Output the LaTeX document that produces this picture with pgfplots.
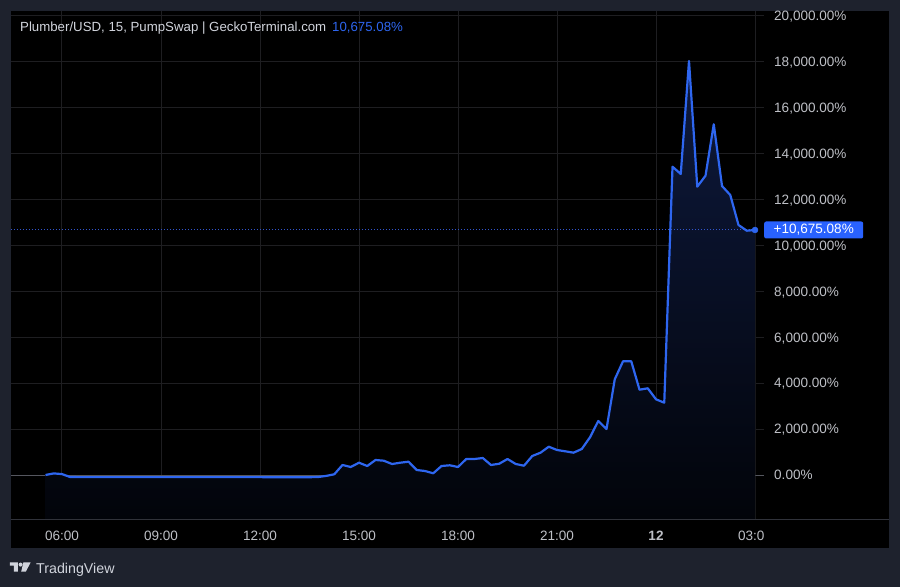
\documentclass[border=0pt]{standalone}
\usepackage{pgfplots}
\pgfplotsset{compat=1.18}
\usepackage{pgfplotstable}
\usepgfplotslibrary{fillbetween}
\usepackage{fontspec}
\setmainfont{Liberation Sans}

\definecolor{outerbg}{RGB}{30,34,45}
\definecolor{gridc}{RGB}{30,30,33}
\definecolor{zeroc}{RGB}{85,87,95}
\definecolor{sepc}{RGB}{48,50,58}
\definecolor{tvblue}{RGB}{46,102,240}
\definecolor{dotblue}{RGB}{50,85,205}
\definecolor{boxblue}{RGB}{41,98,255}
\definecolor{ticktext}{RGB}{190,192,198}
\definecolor{titletext}{RGB}{209,212,220}
\definecolor{areatop}{RGB}{14,26,62}
\definecolor{areabot}{RGB}{2,4,10}

% 15-minute closes, % change since open; x in hours (24 = midnight)
\pgfplotstableread{
h val
5.5 0
5.75 70
6.0 40
6.25 -90
6.5 -92
6.75 -92
7.0 -92
7.25 -92
7.5 -92
7.75 -92
8.0 -92
8.25 -92
8.5 -92
8.75 -92
9.0 -92
9.25 -92
9.5 -92
9.75 -92
10.0 -92
10.25 -92
10.5 -92
10.75 -92
11.0 -92
11.25 -92
11.5 -92
11.75 -92
12.0 -92
12.25 -97
12.5 -97
12.75 -97
13.0 -97
13.25 -97
13.5 -95
13.75 -90
14.0 -40
14.25 30
14.5 436
14.75 349
15.0 536
15.25 392
15.5 654
15.75 623
16.0 479
16.25 536
16.5 580
16.75 218
17.0 174
17.25 74
17.5 392
17.75 423
18.0 349
18.25 697
18.5 697
18.75 741
19.0 436
19.25 492
19.5 697
19.75 479
20.0 405
20.25 828
20.5 972
20.75 1233
21.0 1089
21.25 1033
21.5 972
21.75 1133
22.0 1643
22.25 2353
22.5 2004
22.75 4170
23.0 4954
23.25 4954
23.5 3717
23.75 3777
24.0 3298
24.25 3150
24.5 13433
24.75 13115
25.0 18038
25.25 12561
25.5 13040
25.75 15280
26.0 12592
26.25 12200
26.5 10893
26.75 10644
27.0 10675.08
}\pricedata

\begin{document}
\begin{tikzpicture}[x=1bp, y=1bp]
  \begin{axis}[
    at={(11bp,68bp)}, anchor=south west,
    scale only axis, width=753bp, height=508bp,
    xmin=4.4545, xmax=27.2727, ymin=-1917, ymax=20217,
    set layers, clip=false,
    axis line style={draw=none},
    major tick length=0pt,
    scaled y ticks=false,
    xtick={6,9,12,15,18,21,24,27},
    xticklabels={06:00,09:00,12:00,15:00,18:00,21:00,\textbf{12},03:0\phantom{0}},
    ytick={0,2000,...,20000},
    yticklabels={0.00\%,{2,000.00\%},{4,000.00\%},{6,000.00\%},{8,000.00\%},{10,000.00\%},{12,000.00\%},{14,000.00\%},{16,000.00\%},{18,000.00\%},{20,000.00\%}},
    yticklabel pos=right,
    grid=major,
    major grid style={color=gridc, line width=1bp},
    extra y ticks={0}, extra y tick labels={},
    extra y tick style={major grid style={color=zeroc, line width=1bp}},
    /pgf/number format/assume math mode=true,
    ticklabel style={font=\fontsize{13.6}{16}\selectfont, text=ticktext, inner sep=0pt},
    xticklabel style={anchor=base, yshift=-21bp},
    yticklabel style={anchor=base west, xshift=10bp, yshift=-4.8bp},
  ]
    % outer frame and chart panel, kept below the grid
    \begin{pgfonlayer}{axis background}
      \fill[outerbg] (rel axis cs:-0.01461,-0.13386) rectangle (rel axis cs:1.18061,1.02165);
      \fill[black] (rel axis cs:0,-0.05709) rectangle (rel axis cs:1.16600,1);
    \end{pgfonlayer}
    \draw[sepc, line width=1bp] (rel axis cs:0,0) -- (rel axis cs:1.16600,0);

    \addplot[name path=price, draw=none] table[x=h, y=val] {\pricedata};
    \addplot[name path=floor, draw=none] coordinates {(5.5,-1917) (27,-1917)};
    \addplot[on layer=axis background, top color=areatop, bottom color=areabot]
      fill between[of=price and floor];
    \addplot[dotblue, dash pattern=on 1bp off 2bp, line width=1bp]
      coordinates {(4.4545,10675.08) (27,10675.08)};
    \addplot[tvblue, line width=2.2bp, line join=round] table[x=h, y=val] {\pricedata};
    \addplot[only marks, mark=*, mark size=3bp, color=tvblue] coordinates {(27,10675.08)};
    \node[anchor=west, fill=boxblue, text=white, inner sep=0pt,
          minimum width=99bp, minimum height=17bp, rounded corners=2bp,
          font=\fontsize{13.6}{16}\selectfont]
      at (axis cs:27.2727,10675.08) {+10,675.08\%};
  \end{axis}

  % header
  \node[anchor=base west, inner sep=0pt, text=titletext, font=\fontsize{13.3}{16}\selectfont]
    at (20,555) {Plumber/USD, 15, PumpSwap | GeckoTerminal.com};
  \node[anchor=base west, inner sep=0pt, text=tvblue, font=\fontsize{13.3}{16}\selectfont]
    at (332,555) {10,675.08\%};

  % TradingView mark
  \fill[titletext] (10,24.7) -- (18,24.7) -- (18,15.3) -- (14,15.3) -- (14,21.5) -- (10,21.5) -- cycle;
  \fill[titletext] (20.6,22.4) circle (2bp);
  \fill[titletext] (23.4,24.7) -- (30.7,24.7) -- (25.8,15.3) -- (21.2,15.3) -- cycle;
  \node[anchor=base west, inner sep=0pt, text=titletext, font=\fontsize{14.3}{17}\selectfont]
    at (36,13.7) {TradingView};
\end{tikzpicture}
\end{document}
